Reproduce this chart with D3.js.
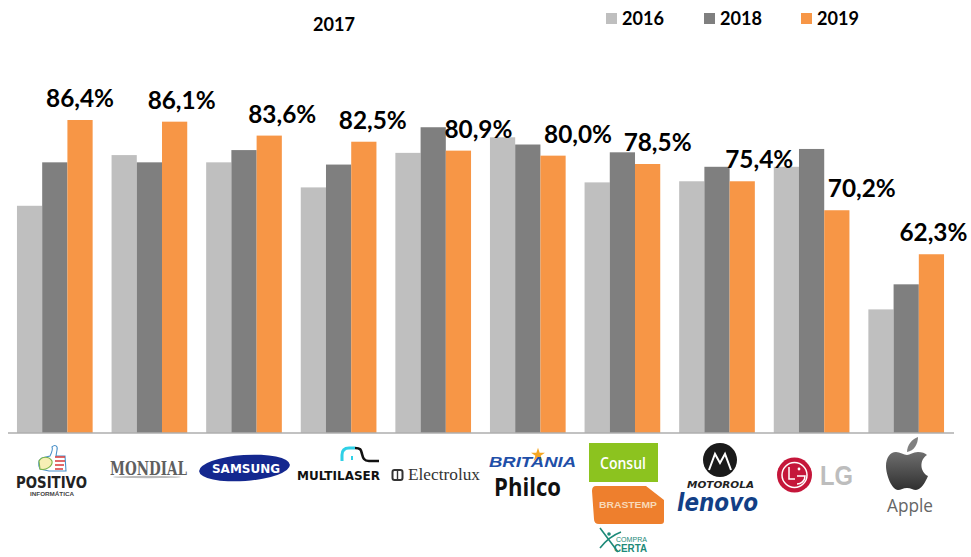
<!DOCTYPE html>
<html><head><meta charset="utf-8">
<script src="https://cdn.jsdelivr.net/npm/d3@7/dist/d3.min.js"></script>
<style>html,body{margin:0;padding:0;background:#fff}svg{display:block}</style>
</head><body><svg id="c" width="971" height="557"></svg>
<script>
const brands=["Positivo","Mondial","Samsung","Multilaser","Electrolux","Britania Philco","Consul Brastemp","Motorola Lenovo","LG","Apple"];
const years=["2016","2018","2019"];
const values2016=[71.0,80.1,78.8,74.3,80.5,83.3,75.2,75.4,78.0,52.4];
const values2018=[78.8,78.8,81.0,78.4,85.1,82.0,80.6,78.0,81.2,56.9];
const values2019=[86.4,86.1,83.6,82.5,80.9,80.0,78.5,75.4,70.2,62.3];
const labelShift=[0,7,13,9,20,25,10,17,25,2];
const colors=["#bfbfbf","#7f7f7f","#f79646"];
const series=[values2016,values2018,values2019];
const svg=d3.select("#c");
const font="Lato, 'Open Sans', sans-serif";
const x=d3.scaleBand().domain(brands).range([7.5,953.5]).paddingInner(0.2).paddingOuter(0.1);
const x1=d3.scaleBand().domain(years).range([0,x.bandwidth()]);
const y=d3.scaleLinear().domain([30.3,86.4]).range([432.5,120]);
brands.forEach((b,i)=>{
  const g=svg.append("g").attr("transform",`translate(${x(b)},0)`);
  years.forEach((yr,k)=>{
    g.append("rect").attr("x",x1(yr)).attr("width",x1.bandwidth()).attr("y",y(series[k][i])).attr("height",y.range()[0]-y(series[k][i])).attr("fill",colors[k]);
  });
});
svg.append("g").attr("transform",`translate(0,${y.range()[0]})`)
  .call(d3.axisBottom(x).tickSize(0).tickFormat(""))
  .call(g=>g.select(".domain").attr("stroke","#868686").attr("stroke-width",1.2));
brands.forEach((b,i)=>{
  svg.append("text").attr("x",x(b)+x1("2019")+x1.bandwidth()/2+labelShift[i]).attr("y",y(values2019[i])-13)
    .attr("text-anchor","middle").attr("font-family",font).attr("font-weight",700).attr("font-size",25).attr("fill","#000")
    .attr("textLength",68).attr("lengthAdjust","spacingAndGlyphs")
    .text(values2019[i].toFixed(1).replace(".",",")+"%");
});
svg.append("text").attr("x",334).attr("y",31).attr("text-anchor","middle").attr("font-family",font).attr("font-weight",700).attr("font-size",18).attr("textLength",42).attr("lengthAdjust","spacingAndGlyphs").text("2017");
const legendX=[606,704,801];
years.forEach((yr,k)=>{
  svg.append("rect").attr("x",legendX[k]).attr("y",13).attr("width",11).attr("height",11).attr("fill",colors[k]);
  svg.append("text").attr("x",legendX[k]+16).attr("y",25).attr("font-family",font).attr("font-weight",700).attr("font-size",19).attr("textLength",42).attr("lengthAdjust","spacingAndGlyphs").text(yr);
});
function t(s,px,py,w,size,fill,fam,wt,st){
  const e=svg.append("text").attr("x",px).attr("y",py).attr("font-family",fam||"'Liberation Sans'").attr("font-size",size).attr("fill",fill).attr("font-weight",wt||700).attr("font-style",st||"normal").text(s);
  if(w) e.attr("textLength",w).attr("lengthAdjust","spacingAndGlyphs");
  return e;
}
// Positivo
svg.append("path").attr("d","M50 456c2-4 3-7 2-9 3-3 6-1 5 3l-1 6h9l1 15H49l-9-2c-2-4-2-9 2-11z").attr("fill","none").attr("stroke","#4a90c8").attr("stroke-width",1.1);
svg.append("path").attr("d","M39 461c3-5 10-5 13 0 1 5-6 10-12 8z").attr("fill","#f7efb5").attr("stroke","#7bb44a").attr("stroke-width",1.1);
svg.append("path").attr("d","M55 457h10M55 461h10M55 465h9M55 469h8").attr("stroke","#d9383a").attr("stroke-width",1.4);
t("POSITIVO",16,488,71,15,"#222","'DejaVu Sans'");
t("INFORMÁTICA",30,495.5,44,6,"#444");
// Mondial
t("MONDIAL",110,475,77,18,"#5f5f5f","'DejaVu Serif'");
svg.append("ellipse").attr("cx",147).attr("cy",477).attr("rx",34).attr("ry",1.2).attr("fill","#bbb");
// Samsung
svg.append("ellipse").attr("cx",244.5).attr("cy",468).attr("rx",45.5).attr("ry",13).attr("transform","rotate(-4 244.5 468)").attr("fill","#14288f");
t("SAMSUNG",212,473,68,13,"#fff","'DejaVu Sans'");
// Multilaser
svg.append("path").attr("d","M342 461v-6c0-5 3-7 7-7h6").attr("fill","none").attr("stroke","#2fd0e6").attr("stroke-width",3);
svg.append("path").attr("d","M355 448c6 0 6 2 7 6s2 7 7 7h10").attr("fill","none").attr("stroke","#111").attr("stroke-width",2.6);
svg.append("rect").attr("x",351).attr("y",456).attr("width",2).attr("height",4).attr("fill","#2fd0e6");
t("MULTILASER",297,480,83,12,"#111","'DejaVu Sans'");
// Electrolux
svg.append("rect").attr("x",392.5).attr("y",470).attr("width",10).attr("height",10).attr("rx",2).attr("fill","none").attr("stroke","#333").attr("stroke-width",2);
svg.append("path").attr("d","M397.5 470v10").attr("stroke","#333").attr("stroke-width",1.4);
t("Electrolux",408,480,72,17,"#333","'Liberation Serif'",400);
// Britania / Philco
svg.append("path").attr("d",d3.symbol().type(d3.symbolStar).size(60)()).attr("transform","translate(538,455)").attr("fill","#f5a623");
t("BRITANIA",489,467,87,14,"#1f4fa8","'Liberation Sans'",700,"italic");
t("Philco",494,496,67,25,"#111","'Open Sans'",700);
// Consul
svg.append("rect").attr("x",589).attr("y",443).attr("width",69).attr("height",39).attr("fill","#8cc31f");
t("Consul",600,469,46,17,"#fff","'Open Sans'",600);
// Brastemp
svg.append("path").attr("d","M596 486h50l18 14v21q0 3-3 3h-62q-5 0-5-5l-2-28q0-5 4-5z").attr("fill","#ee7f2d");
t("BRASTEMP",599,508,58,8.5,"#f8d9b8");
// Compra Certa
svg.append("path").attr("d","M600 528l18 24M621 532c-8 3-14 7-21 16").attr("fill","none").attr("stroke","#1d8a78").attr("stroke-width",1.6);
svg.append("circle").attr("cx",609).attr("cy",534).attr("r",1.8).attr("fill","#1d8a78");
t("COMPRA",616,542,31,7,"#1d8a78","'Liberation Sans'",400);
t("CERTA",614,552,33,10,"#1d8a78");
// Motorola / Lenovo
svg.append("circle").attr("cx",720).attr("cy",460).attr("r",17).attr("fill","#1a1a1a");
svg.append("path").attr("d","M709 470l6-16 5 9 5-9 6 16").attr("fill","none").attr("stroke","#fff").attr("stroke-width",2);
t("MOTOROLA",687,488,67,9,"#222","'DejaVu Sans'",700,"italic");
t("lenovo",677,511,81,24,"#123f86","'DejaVu Sans'",700,"italic");
// LG
svg.append("circle").attr("cx",794.5).attr("cy",475).attr("r",17.5).attr("fill","#c5163a");
svg.append("circle").attr("cx",794.5).attr("cy",475).attr("r",12.5).attr("fill","none").attr("stroke","#fff").attr("stroke-width",1.5);
svg.append("path").attr("d","M789 467v12h6M797 476h8c0 5-4 8-8 8").attr("fill","none").attr("stroke","#fff").attr("stroke-width",1.5);
svg.append("circle").attr("cx",799).attr("cy",469).attr("r",1.4).attr("fill","#fff");
t("LG",820,485,33,27,"#bdbdbd");
// Apple
const grad=svg.append("defs").append("linearGradient").attr("id","ap").attr("x1",0).attr("y1",0).attr("x2",0).attr("y2",1);
grad.append("stop").attr("offset",0).attr("stop-color","#6e6e6e");
grad.append("stop").attr("offset",1).attr("stop-color","#303030");
svg.append("path").attr("d","M918 452c-5 0-8 3-11 3s-7-3-11-3c-6 0-10 6-10 14 0 9 6 24 12 24 3 0 5-2 9-2s6 2 9 2c5 0 10-9 12-14-8-4-9-16-1-21-2-2-5-3-9-3z").attr("fill","url(#ap)");
svg.append("path").attr("d","M907 452c0-7 5-13 11-15 0 7-4 14-11 15z").attr("fill","#808080");
t("Apple",887,512,46,18,"#666","'Open Sans'",400);
</script></body></html>
